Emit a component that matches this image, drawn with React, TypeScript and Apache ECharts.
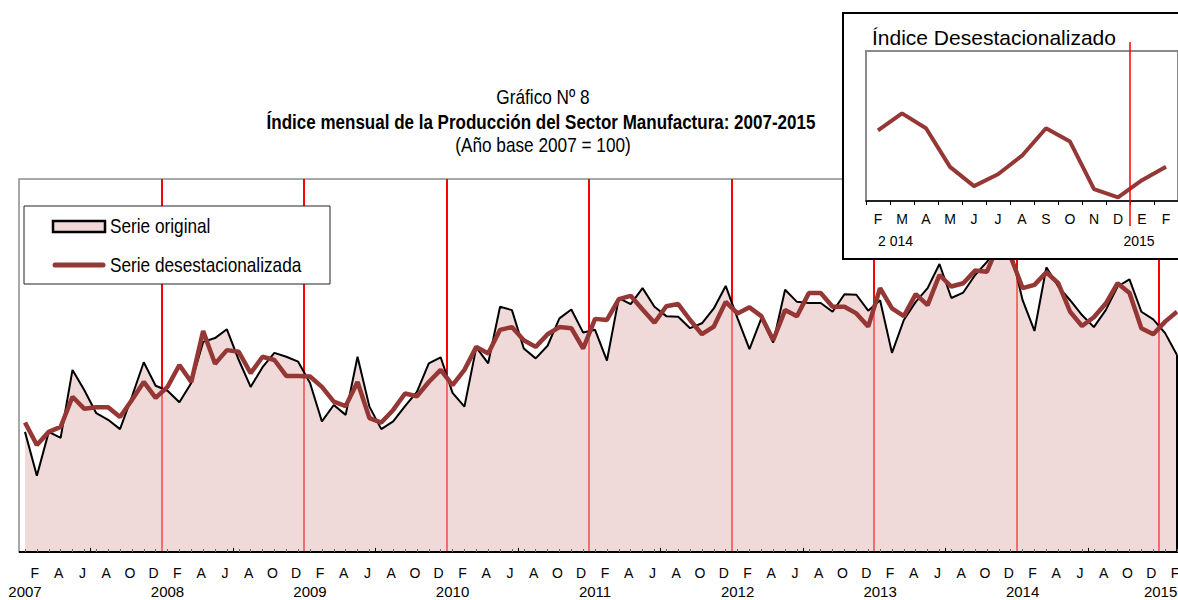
import React, { useEffect, useRef } from 'react';
import * as echarts from 'echarts';

// Month letters shown under the main axis (every other month)
const monthLetters = ['', 'F', '', 'A', '', 'J', '', 'A', '', 'O', '', 'D'];
const years = ['2007', '2008', '2009', '2010', '2011', '2012', '2013', '2014', '2015'];

// Índice mensual, Ene 2007 - Feb 2015
const serieOriginal = [
  96.9, 88.9, 96.9, 95.8, 108.2, 104.5, 100.3, 99.1, 97.4, 103.3, 109.6, 105.3,
  104.4, 102.3, 105.8, 113.3, 114.0, 115.6, 110.0, 105.1, 108.7, 111.3, 110.6, 109.7,
  105.8, 98.8, 101.8, 100.0, 110.6, 101.5, 97.4, 98.8, 101.6, 104.2, 109.4, 110.5,
  104.0, 101.5, 112.3, 109.4, 119.7, 119.1, 112.1, 110.3, 112.6, 117.6, 119.2, 115.0,
  115.5, 109.9, 121.3, 120.2, 123.1, 119.7, 118.0, 117.9, 115.8, 116.7, 119.4, 123.5,
  117.6, 112.0, 117.6, 113.2, 122.8, 120.6, 120.4, 120.4, 118.8, 122.0, 121.9, 119.0,
  120.9, 111.3, 117.3, 120.6, 123.1, 127.5, 121.3, 122.3, 125.5, 127.9, 131.0, 130.1,
  120.9, 115.3, 126.9, 123.4, 120.9, 118.2, 116.0, 119.1, 123.4, 124.7, 118.8, 117.4,
  114.9, 110.9,
];

const serieDesestacionalizada = [
  98.6, 94.5, 96.9, 97.8, 103.3, 101.1, 101.4, 101.4, 99.6, 102.7, 106.0, 103.1,
  105.1, 109.1, 106.0, 115.3, 109.3, 111.8, 111.5, 107.6, 110.6, 110.0, 107.1, 107.1,
  107.0, 105.1, 102.4, 101.6, 106.0, 99.4, 98.6, 100.9, 103.9, 103.4, 106.0, 108.2,
  105.4, 108.2, 112.4, 111.2, 115.5, 116.0, 113.6, 112.4, 114.7, 116.0, 115.8, 112.1,
  117.5, 117.3, 121.1, 121.7, 119.2, 116.8, 119.8, 120.2, 117.3, 114.7, 116.1, 120.6,
  118.5, 119.6, 118.0, 113.6, 119.1, 118.0, 122.2, 122.2, 119.7, 119.7, 118.5, 116.1,
  123.1, 119.4, 118.0, 122.0, 120.0, 125.5, 123.4, 124.0, 126.3, 126.1, 131.3, 128.8,
  123.1, 123.7, 126.0, 124.0, 118.8, 116.2, 117.8, 120.3, 124.0, 122.2, 115.8, 114.7,
  117.0, 118.8,
];

// Inset: Feb 2014 - Feb 2015
const insetMonths = ['F', 'M', 'A', 'M', 'J', 'J', 'A', 'S', 'O', 'N', 'D', 'E', 'F'];
const insetYears = ['2 014', '2015'];
const insetStartIndex = 85;

const ARIAL = "'Liberation Sans', Arial, Helvetica, sans-serif";
const NARROW_SCALE = 0.82;

export default function App() {
  const ref = useRef<HTMLDivElement>(null);

  useEffect(() => {
    document.body.style.margin = '0';
    const chart = echarts.init(ref.current!, null, { renderer: 'svg' });

    const n = serieOriginal.length;
    const maxX = n - 1;
    const Y_MIN = 75;
    const Y_MAX = 143;
    const origData = serieOriginal.map((v, i) => [i, v]);
    const desData = serieDesestacionalizada.map((v, i) => [i, v]);
    const yearBreaks = years.slice(1).map((_, k) => ({ xAxis: 12 * (k + 1) - 0.5 }));
    const midYearTicks = years
      .slice(0, 8)
      .map((_, k) => [{ coord: [12 * k + 5.5, Y_MIN] }, { coord: [12 * k + 5.5, Y_MIN + 0.75] }]);
    const rightEdge = [[{ coord: [maxX, serieOriginal[maxX]] }, { coord: [maxX, Y_MIN] }]];
    const lastYearIdx = (years.length - 1) * 12;

    const INSET_LEFT = 866;
    const INSET_TOP = 51;
    const INSET_CAT = 24;
    const INSET_W = INSET_CAT * insetMonths.length;
    const INSET_H = 150;
    const insetBreakX = INSET_LEFT + INSET_CAT * insetMonths.indexOf('E');

    const narrowText = (text: string, x: number, y: number, size: number, opts: any = {}) => ({
      type: 'text', z: 10, x, y, scaleX: opts.scaleX ?? NARROW_SCALE,
      style: {
        text, font: `${opts.bold ? 'bold ' : ''}${size}px ${ARIAL}`, fill: '#000',
        align: opts.align ?? 'left', verticalAlign: 'middle',
      },
    });

    const option: any = {
      animation: false,
      grid: [
        { left: 25, right: 1, top: 179, bottom: 48, show: false, containLabel: false, outerBoundsMode: 'none' },
        {
          left: INSET_LEFT, top: INSET_TOP, width: INSET_W, height: INSET_H,
          show: true, borderColor: '#8a8a8a', borderWidth: 2, backgroundColor: 'transparent', z: 11,
          containLabel: false, outerBoundsMode: 'none',
        },
      ],
      xAxis: [
        {
          type: 'value', gridIndex: 0, min: 0, max: maxX, interval: 1, position: 'bottom', z: 9,
          axisLine: { show: false },
          axisTick: { show: true, inside: true, length: 3, lineStyle: { color: '#666', width: 1 } },
          splitLine: { show: false },
          axisLabel: {
            formatter: (v: number) => monthLetters[Math.round(v) % 12],
            fontFamily: ARIAL, fontSize: 14, color: '#000', margin: 14, padding: [0, 4, 0, 0],
          },
        },
        {
          type: 'value', gridIndex: 0, min: 0, max: maxX, interval: 1, position: 'bottom', z: 9,
          axisLine: { show: false }, axisTick: { show: false }, splitLine: { show: false },
          axisLabel: {
            formatter: (v: number) => {
              const i = Math.round(v);
              if (i % 12 !== 0) return '';
              const y = years[i / 12];
              return i === lastYearIdx ? `{last|${y}}` : y;
            },
            fontFamily: ARIAL, fontSize: 15, lineHeight: 15, color: '#000', margin: 32,
            rich: {
              last: { fontFamily: ARIAL, fontSize: 15, lineHeight: 15, color: '#000', padding: [0, 9, 0, 0] },
            },
          },
        },
        {
          type: 'category', gridIndex: 1, data: insetMonths, boundaryGap: true, z: 12,
          axisLine: { show: true, lineStyle: { color: '#000', width: 1.5 } },
          axisTick: { show: true, length: 4, interval: 0, lineStyle: { color: '#000', width: 1 } },
          axisLabel: { interval: 0, fontFamily: ARIAL, fontSize: 14, color: '#000', margin: 11 },
          splitLine: { show: false },
        },
      ],
      yAxis: [
        { type: 'value', gridIndex: 0, min: Y_MIN, max: Y_MAX, show: false },
        { type: 'value', gridIndex: 1, min: 114.2, max: 134.4, show: false },
      ],
      series: [
        {
          type: 'line', xAxisIndex: 0, yAxisIndex: 0, data: origData, silent: true,
          symbol: 'none', lineStyle: { opacity: 0 }, z: 2,
          markLine: {
            silent: true, symbol: ['none', 'none'], label: { show: false }, z: 5,
            lineStyle: { color: '#ff0000', width: 2, type: 'solid' },
            data: yearBreaks,
          },
        },
        {
          name: 'Serie original', type: 'line', xAxisIndex: 0, yAxisIndex: 0, data: origData,
          symbol: 'none', z: 6,
          lineStyle: { color: '#000', width: 2 },
          itemStyle: { color: '#000' },
          areaStyle: { color: 'rgba(229,190,189,0.58)', opacity: 1, origin: 'start' },
          markLine: {
            silent: true, symbol: ['none', 'none'], label: { show: false }, z: 8,
            lineStyle: { color: '#000', width: 2, type: 'solid' },
            data: rightEdge,
          },
        },
        {
          name: 'Serie desestacionalizada', type: 'line', xAxisIndex: 0, yAxisIndex: 0, data: desData,
          symbol: 'none', z: 7,
          lineStyle: { color: '#953735', width: 4.5 },
          itemStyle: { color: '#953735' },
          markLine: {
            silent: true, symbol: ['none', 'none'], label: { show: false }, z: 8,
            lineStyle: { color: '#000', width: 1, type: 'solid' },
            data: midYearTicks,
          },
        },
        {
          name: 'Índice Desestacionalizado', type: 'line', xAxisIndex: 2, yAxisIndex: 1,
          data: serieDesestacionalizada.slice(insetStartIndex), symbol: 'none', z: 13,
          lineStyle: { color: '#953735', width: 4 },
          itemStyle: { color: '#953735' },
        },
      ],
      graphic: [
        // plot frame
        {
          type: 'rect', z: 1, silent: true,
          shape: { x: 19, y: 179, width: 1170, height: 373 },
          style: { fill: 'none', stroke: '#8c8c8c', lineWidth: 1.5 },
        },
        {
          type: 'line', z: 9, silent: true,
          shape: { x1: 19, y1: 552, x2: 1178, y2: 552 },
          style: { stroke: '#000', lineWidth: 2 },
        },
        // titles
        narrowText('Gráfico Nº 8', 543, 97, 21, { align: 'center' }),
        narrowText('Índice mensual de la Producción del Sector Manufactura: 2007-2015', 541, 122, 21, {
          align: 'center', bold: true, scaleX: 0.81,
        }),
        narrowText('(Año base 2007 = 100)', 543, 145, 21, { align: 'center' }),
        // legend
        {
          type: 'rect', z: 9, silent: true,
          shape: { x: 24, y: 206, width: 306, height: 78 },
          style: { fill: '#fff', stroke: '#222', lineWidth: 1 },
        },
        {
          type: 'rect', z: 10, silent: true,
          shape: { x: 53, y: 221, width: 52, height: 11 },
          style: { fill: '#f0d9d8', stroke: '#000', lineWidth: 2.5 },
        },
        narrowText('Serie original', 110, 226, 21),
        {
          type: 'line', z: 10, silent: true,
          shape: { x1: 55, y1: 265, x2: 103, y2: 265 },
          style: { stroke: '#953735', lineWidth: 5, lineCap: 'round' },
        },
        narrowText('Serie desestacionalizada', 110, 265, 21),
        // inset box
        {
          type: 'rect', z: 10, silent: true,
          shape: { x: 843, y: 13, width: 345, height: 246 },
          style: { fill: '#fff', stroke: '#000', lineWidth: 2 },
        },
        {
          type: 'text', z: 14, x: 872, y: 37,
          style: { text: 'Índice Desestacionalizado', font: `21px ${ARIAL}`, fill: '#000', verticalAlign: 'middle' },
        },
        {
          type: 'line', z: 14, silent: true,
          shape: { x1: insetBreakX, y1: 42, x2: insetBreakX, y2: 226 },
          style: { stroke: '#ff0000', lineWidth: 1.5 },
        },
        {
          type: 'text', z: 14, x: 878, y: 241,
          style: { text: insetYears[0], font: `14px ${ARIAL}`, fill: '#000', verticalAlign: 'middle' },
        },
        {
          type: 'text', z: 14, x: 1139, y: 241,
          style: { text: insetYears[1], font: `14px ${ARIAL}`, fill: '#000', align: 'center', verticalAlign: 'middle' },
        },
      ],
    };

    chart.setOption(option);
    return () => chart.dispose();
  }, []);

  return <div ref={ref} style={{ width: 1178, height: 600 }} />;
}
